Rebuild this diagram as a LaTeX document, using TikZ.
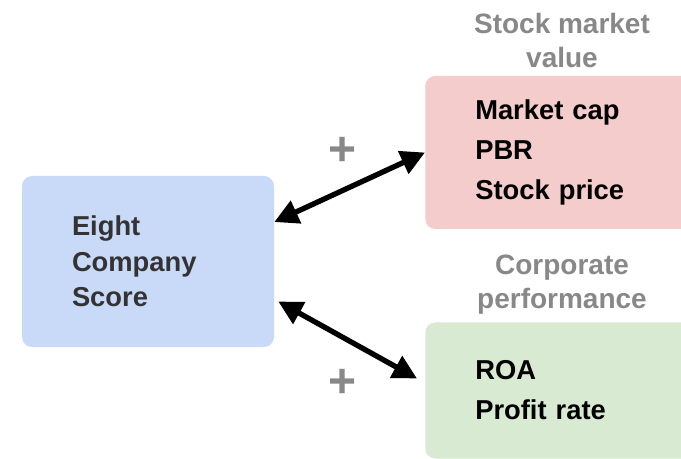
\documentclass[tikz,border=0pt]{standalone}
\usepackage{fontspec}
\setmainfont{Liberation Sans}
\usetikzlibrary{arrows.meta}
\definecolor{scoreblue}{HTML}{C9DAF8}
\definecolor{marketred}{HTML}{F4CCCC}
\definecolor{perfgreen}{HTML}{D9EAD3}
\definecolor{titlegray}{HTML}{888888}
\definecolor{scoretext}{HTML}{333333}
\begin{document}
\begin{tikzpicture}[x=0.75pt,y=-0.75pt,line join=round,
	box/.style={rounded corners=7.5pt,align=left,inner xsep=37.5pt,inner ysep=0pt,
		font=\fontsize{20.5}{30}\selectfont\bfseries},
	title/.style={align=center,text=titlegray,font=\fontsize{21}{25.5}\selectfont\bfseries},
	plus/.style={text=titlegray,font=\fontsize{36}{36}\selectfont\bfseries},
	link/.style={line width=4pt,{Triangle[length=18pt,width=18pt]}-{Triangle[length=18pt,width=18pt]}}]
	
	\useasboundingbox (0,0) rectangle (681,459);
	
	\node[box,fill=scoreblue,text=scoretext,text width=114pt,minimum height=128.25pt,
		font=\fontsize{20.5}{26.5}\selectfont\bfseries] (score) at (148,261.5) {Eight\\Company\\Score};
	\node[box,fill=marketred,text width=131pt,minimum height=114.75pt,anchor=west] (market) at (425,152.5) {Market cap\\PBR\\Stock price};
	\node[box,fill=perfgreen,text width=131pt,minimum height=102pt,anchor=west] (perf) at (425,390.5) {ROA\\Profit rate};
	
	\node[title] (markettitle) at (562,40) {Stock market\\value};
	\node[title] (perftitle) at (562,285) {Corporate\\performance};
	
	\node[plus] (plusup) at (343,151) {+};
	\node[plus] (plusdown) at (343,383) {+};
	
	\draw[link] ([yshift=29.6pt]score.east) -- (market.west);
	\draw[link] ([yshift=-30pt,xshift=3pt]score.east) -- ([yshift=9pt,xshift=-6pt]perf.west);
\end{tikzpicture}
\end{document}
